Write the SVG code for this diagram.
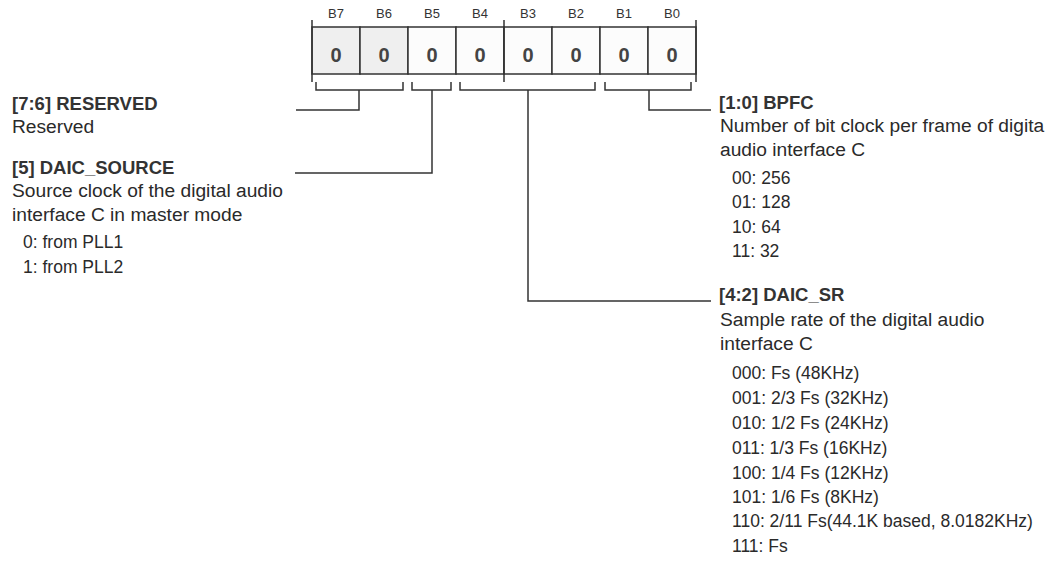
<svg xmlns="http://www.w3.org/2000/svg" width="1046" height="561" viewBox="0 0 1046 561">
<style>
text{font-family:"Liberation Sans",Arial,sans-serif;fill:#2a2a2a}
.bit{font-size:13px;text-anchor:middle;fill:#333}
.val{font-size:20px;font-weight:bold;text-anchor:middle;fill:#444}
.t{font-size:18.5px;font-weight:bold;fill:#333}
.d{font-size:19.2px}
.l{font-size:17.5px}
.ln{fill:none;stroke:#333;stroke-width:1.5}
.cellg{fill:#efefef;stroke:#333;stroke-width:1.5}
.cellw{fill:#fcfcfc;stroke:#333;stroke-width:1.5}
</style>
<rect width="1046" height="561" fill="#ffffff"/>
<g id="register">
<rect class="cellg" x="312" y="27" width="48" height="47"/>
<rect class="cellg" x="360" y="27" width="48" height="47"/>
<rect class="cellw" x="408" y="27" width="48" height="47"/>
<rect class="cellw" x="456" y="27" width="48" height="47"/>
<rect class="cellw" x="504" y="27" width="48" height="47"/>
<rect class="cellw" x="552" y="27" width="48" height="47"/>
<rect class="cellw" x="600" y="27" width="48" height="47"/>
<rect class="cellw" x="648" y="27" width="48" height="47"/>
<text class="bit" x="336" y="18">B7</text>
<text class="bit" x="384" y="18">B6</text>
<text class="bit" x="432" y="18">B5</text>
<text class="bit" x="480" y="18">B4</text>
<text class="bit" x="528" y="18">B3</text>
<text class="bit" x="576" y="18">B2</text>
<text class="bit" x="624" y="18">B1</text>
<text class="bit" x="672" y="18">B0</text>
<text class="val" x="336" y="62">0</text>
<text class="val" x="384" y="62">0</text>
<text class="val" x="432" y="62">0</text>
<text class="val" x="480" y="62">0</text>
<text class="val" x="528" y="62">0</text>
<text class="val" x="576" y="62">0</text>
<text class="val" x="624" y="62">0</text>
<text class="val" x="672" y="62">0</text>
<path class="ln" d="M312 20V82M504 20V82M696 20V82"/>
</g>
<g id="connectors">
<path class="ln" d="M316 82V90H403V82M359 90V110H296"/>
<path class="ln" d="M412 82V90H451V82M432 90V173H295"/>
<path class="ln" d="M460 82V90H595V82M528 90V301H711"/>
<path class="ln" d="M605 82V90H691V82M649 90V110H711"/>
</g>
<g id="reserved">
<text class="t" x="12" y="110">[7:6] RESERVED</text>
<text class="d" x="12" y="133">Reserved</text>
</g>
<g id="daic_source">
<text class="t" x="12" y="174">[5] DAIC_SOURCE</text>
<text class="d" x="12" y="197">Source clock of the digital audio</text>
<text class="d" x="12" y="221">interface C in master mode</text>
<text class="l" x="23" y="248">0: from PLL1</text>
<text class="l" x="23" y="273">1: from PLL2</text>
</g>
<g id="bpfc">
<text class="t" x="719" y="109">[1:0] BPFC</text>
<text class="d" x="720" y="132">Number of bit clock per frame of digita</text>
<text class="d" x="720" y="156">audio interface C</text>
<text class="l" x="732" y="184">00: 256</text>
<text class="l" x="732" y="208">01: 128</text>
<text class="l" x="732" y="233">10: 64</text>
<text class="l" x="732" y="257">11: 32</text>
</g>
<g id="daic_sr">
<text class="t" x="719" y="301">[4:2] DAIC_SR</text>
<text class="d" x="720" y="326">Sample rate of the digital audio</text>
<text class="d" x="720" y="350">interface C</text>
<text class="l" x="732" y="379">000: Fs (48KHz)</text>
<text class="l" x="732" y="404">001: 2/3 Fs (32KHz)</text>
<text class="l" x="732" y="429">010: 1/2 Fs (24KHz)</text>
<text class="l" x="732" y="454">011: 1/3 Fs (16KHz)</text>
<text class="l" x="732" y="479">100: 1/4 Fs (12KHz)</text>
<text class="l" x="732" y="503">101: 1/6 Fs (8KHz)</text>
<text class="l" x="732" y="527">110: 2/11 Fs(44.1K based, 8.0182KHz)</text>
<text class="l" x="732" y="552">111: Fs</text>
</g>
</svg>
